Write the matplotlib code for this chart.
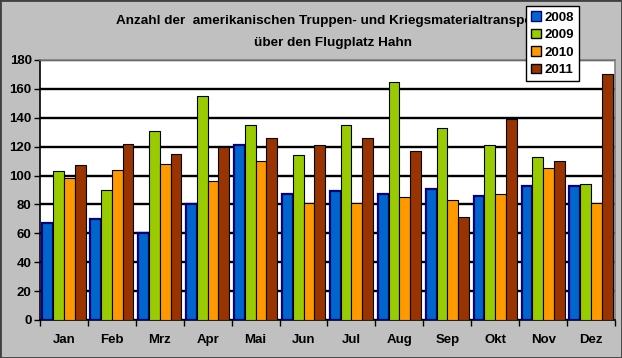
import numpy as np
import matplotlib.pyplot as plt
from matplotlib.patches import Patch, Rectangle

plt.rcParams['font.family'] = ['Liberation Sans', 'DejaVu Sans']
plt.rcParams['font.weight'] = 'bold'

# Daten
monate = ['Jan', 'Feb', 'Mrz', 'Apr', 'Mai', 'Jun',
          'Jul', 'Aug', 'Sep', 'Okt', 'Nov', 'Dez']
jahre = ['2008', '2009', '2010', '2011']
w2008 = [67, 70, 60, 80, 121, 87, 89, 87, 91, 86, 93, 93]
w2009 = [103, 90, 131, 155, 135, 114, 135, 165, 133, 121, 113, 94]
w2010 = [98, 104, 108, 96, 110, 81, 81, 85, 83, 87, 105, 81]
w2011 = [107, 122, 115, 120, 126, 121, 126, 117, 71, 139, 110, 170]
werte = [w2008, w2009, w2010, w2011]

farben = ['#0066CC', '#99CC00', '#FF9900', '#993300']
kanten = ['#000080', 'black', 'black', 'black']
kanten_lw = [1.6, 0.8, 0.8, 0.8]

W, H = 622, 358
fig = plt.figure(figsize=(W / 100, H / 100), dpi=100, facecolor='#C0C0C0')
ax = fig.add_axes([40 / W, (H - 320) / H, 575 / W, 260 / H])
ax.set_facecolor('white')

x = np.arange(len(monate))
bw = 0.225
for k, (jahr, v) in enumerate(zip(jahre, werte)):
    ax.bar(x + (k - 1.5) * bw, v, bw, color=farben[k], edgecolor=kanten[k],
           linewidth=kanten_lw[k], zorder=3)

ax.set_xlim(-0.5, len(monate) - 0.5)
ax.set_ylim(0, 180)
ax.set_yticks(np.arange(0, 181, 20))
ax.yaxis.grid(True, color='black', linewidth=1.7, zorder=1)
ax.set_axisbelow(True)

# Striche an den Kategoriegrenzen, Beschriftung in der Mitte
ax.set_xticks(np.arange(-0.5, len(monate)), labels=[])
ax.set_xticks(x, labels=monate, minor=True)
ax.tick_params(axis='x', which='minor', length=0, pad=10, labelsize=9.5)
ax.tick_params(axis='x', which='major', length=4, width=1, direction='out')
ax.tick_params(axis='y', length=4, width=1, direction='out', labelsize=9.5, pad=2)

for s in ['top', 'right']:
    ax.spines[s].set_color('#808080')
    ax.spines[s].set_linewidth(1.2)
for s in ['left', 'bottom']:
    ax.spines[s].set_color('black')
    ax.spines[s].set_linewidth(1.2)

fig.text(333 / W, 1 - 21 / H,
         'Anzahl der  amerikanischen Truppen- und Kriegsmaterialtransporte',
         ha='center', va='center', fontsize=9.7, fontweight='bold')
fig.text(333 / W, 1 - 43 / H, 'über den Flugplatz Hahn',
         ha='center', va='center', fontsize=9.7, fontweight='bold')

griffe = [Patch(facecolor=farben[k], edgecolor=kanten[k], linewidth=1)
          for k in range(len(jahre))]
leg = fig.legend(griffe, jahre, loc='upper left',
                 bbox_to_anchor=(526 / W, 1 - 6 / H), fancybox=False,
                 framealpha=1, edgecolor='black', fontsize=9.5,
                 handlelength=0.7, handleheight=0.7, handletextpad=0.3,
                 labelspacing=0.4, borderpad=0.4, borderaxespad=0)
leg.get_frame().set_linewidth(1)

fig.patches.append(Rectangle((0, 0), 1, 1, transform=fig.transFigure,
                             fill=False, edgecolor='#404040', linewidth=2))

fig.savefig('out.png', dpi=100, facecolor=fig.get_facecolor())
